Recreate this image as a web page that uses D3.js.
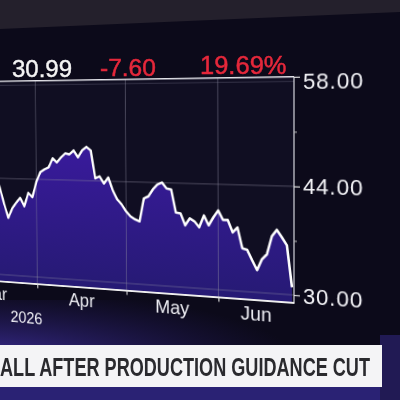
<!DOCTYPE html>
<html>
<head>
<meta charset="utf-8">
<script src="https://cdn.jsdelivr.net/npm/d3@7"></script>
<style>
  html, body { margin: 0; padding: 0; width: 400px; height: 400px; overflow: hidden; background: #0d0b1b; }
  svg { position: absolute; left: 0; top: 0; }
  #chart { transform-origin: 0 0; }
  text { font-family: "Liberation Sans", Arial, sans-serif; }
</style>
</head>
<body>
<svg id="bg" width="400" height="400"></svg>
<svg id="chart" width="520" height="400"></svg>
<svg id="overlay" width="400" height="400"></svg>
<script>
// --- data ---
const dates = [
  "2026-03-18", "2026-03-19", "2026-03-20", "2026-03-23", "2026-03-24", "2026-03-25", "2026-03-26", "2026-03-27", "2026-03-30", "2026-03-31",
  "2026-04-01", "2026-04-02", "2026-04-06", "2026-04-07", "2026-04-08", "2026-04-09", "2026-04-10", "2026-04-13", "2026-04-14", "2026-04-15",
  "2026-04-16", "2026-04-17", "2026-04-20", "2026-04-21", "2026-04-22", "2026-04-23", "2026-04-24", "2026-04-27", "2026-04-28", "2026-04-29",
  "2026-04-30", "2026-05-01", "2026-05-04", "2026-05-05", "2026-05-06", "2026-05-07", "2026-05-08", "2026-05-11", "2026-05-12", "2026-05-13",
  "2026-05-14", "2026-05-15", "2026-05-18", "2026-05-19", "2026-05-20", "2026-05-21", "2026-05-22", "2026-05-26", "2026-05-27", "2026-05-28",
  "2026-05-29", "2026-06-01", "2026-06-02", "2026-06-03", "2026-06-04", "2026-06-05", "2026-06-08", "2026-06-09", "2026-06-10", "2026-06-11",
  "2026-06-12", "2026-06-15", "2026-06-16", "2026-06-17", "2026-06-18", "2026-06-22", "2026-06-23"
];
const closes = [
  44.2, 42.54, 40.28, 38.31, 39.71, 40.55, 41.28, 40.07, 42.02, 41.40,
  43.63, 45.03, 45.44, 45.73, 47.02, 46.47, 47.18, 47.76, 47.63, 48.20,
  47.23, 48.22, 48.71, 48.23, 44.35, 44.64, 43.68, 44.53, 42.75, 41.53,
  40.86, 39.92, 39.26, 38.88, 38.63, 41.79, 42.09, 43.06, 43.75, 44.04,
  43.25, 43.13, 40.05, 39.95, 38.36, 39.33, 38.95, 38.18, 39.80, 38.50,
  39.59, 40.54, 39.31, 39.34, 37.72, 38.40, 35.68, 35.52, 34.18, 32.92,
  34.39, 35.07, 37.44, 38.31, 37.37, 36.37, 30.99
];
const yTicks = [30, 44, 58];
const yMinorTicks = [37, 51];
const monthNames = ["Mar", "Apr", "May", "Jun"];
const yearLabel = "2026";
const lastPrice = "30.99";
const netChange = "-7.60";
const pctChange = "19.69%";
const headline = "ALL AFTER PRODUCTION GUIDANCE CUT";

const parse = d3.timeParse("%Y-%m-%d");
const data = dates.map((d, i) => ({ i, date: parse(d), v: closes[i] }));

// --- 1. Background (TV studio) ---
const bg = d3.select("#bg");
const bgDefs = bg.append("defs");
const glow = bgDefs.append("radialGradient").attr("id", "glow")
  .attr("cx", 0.15).attr("cy", 0.5).attr("r", 0.6);
glow.append("stop").attr("offset", 0).attr("stop-color", "#4433ae").attr("stop-opacity", 0.95);
glow.append("stop").attr("offset", 1).attr("stop-color", "#2a1f70").attr("stop-opacity", 0);

bg.append("rect").attr("width", 400).attr("height", 400).attr("fill", "#0c0a1a");
bg.append("polygon").attr("points", "0,0 400,0 400,12 0,29").attr("fill", "#24202c");
bg.append("rect").attr("x", -120).attr("y", 300).attr("width", 560).attr("height", 130).attr("fill", "url(#glow)");
bg.append("rect").attr("x", 0).attr("y", 385).attr("width", 400).attr("height", 15).attr("fill", "#2a2274");
bg.append("rect").attr("x", 380).attr("y", 335).attr("width", 20).attr("height", 65).attr("fill", "#211a54");

// --- 2. Chart drawn flat, then put into the screen's perspective ---
const svg = d3.select("#chart");
const OX = 120;
const startIdx = -12, endIdx = data.length - 1 + 0.4;
const x = d3.scaleLinear().domain([startIdx, endIdx]).range([OX - 106, OX + 294]);
const y = d3.scaleLinear().domain([30, 58]).range([295, 76.8]);
const baseY = y(30) + 7.5;

const monthStarts = data.filter((d, k) => k > 0 && d.date.getMonth() !== data[k - 1].date.getMonth()).map(d => d.i);
const bounds = [startIdx, ...monthStarts, endIdx];
const labelPos = monthNames.map((m, k) => (bounds[k] + bounds[k + 1]) / 2);

const defs = svg.append("defs");
const grad = defs.append("linearGradient").attr("id", "fill")
  .attr("gradientUnits", "userSpaceOnUse").attr("x1", 0).attr("x2", 0).attr("y1", y(50)).attr("y2", baseY);
grad.append("stop").attr("offset", 0).attr("stop-color", "#3a1a9e");
grad.append("stop").attr("offset", 1).attr("stop-color", "#261a74");

svg.append("rect").attr("x", x(startIdx)).attr("y", y(58))
  .attr("width", x(endIdx) - x(startIdx)).attr("height", baseY - y(58)).attr("fill", "#100e22");

svg.append("path").datum(data)
  .attr("fill", "url(#fill)")
  .attr("d", d3.area().x(d => x(d.i)).y0(baseY).y1(d => y(d.v)));

// grid
const grid = svg.append("g").attr("stroke", "#8c8aa0").attr("stroke-opacity", 0.55).attr("stroke-width", 0.9);
grid.selectAll("line.v").data(monthStarts).join("line").attr("class", "v")
  .attr("x1", d => x(d)).attr("x2", d => x(d)).attr("y1", y(58)).attr("y2", baseY);
grid.selectAll("line.h").data([44, 30]).join("line").attr("class", "h")
  .attr("x1", x(startIdx)).attr("x2", x(endIdx)).attr("y1", d => y(d)).attr("y2", d => y(d));
grid.append("line").attr("x1", x(startIdx)).attr("x2", x(endIdx)).attr("y1", y(58) + 4.5).attr("y2", y(58) + 4.5)
  .attr("stroke-opacity", 0.35);

// frame
svg.append("line").attr("x1", x(startIdx)).attr("x2", x(endIdx)).attr("y1", y(58)).attr("y2", y(58))
  .attr("stroke", "#e4e4ea").attr("stroke-width", 1.6);
svg.append("line").attr("x1", x(endIdx)).attr("x2", x(endIdx)).attr("y1", y(58)).attr("y2", baseY)
  .attr("stroke", "#d4d4dc").attr("stroke-width", 1.2);

// price line
svg.append("path").datum(data)
  .attr("fill", "none").attr("stroke", "#ffffff").attr("stroke-width", 2.6).attr("stroke-linejoin", "round")
  .attr("d", d3.line().x(d => x(d.i)).y(d => y(d.v)));

// bottom axis: month ticks, then month labels
const xAxis = svg.append("g").attr("transform", `translate(0,${baseY})`)
  .call(d3.axisBottom(x).tickValues(monthStarts).tickSize(5).tickSizeOuter(0).tickFormat(""));
xAxis.select(".domain").attr("stroke", "#eeeeee").attr("stroke-width", 2);
xAxis.selectAll(".tick line").attr("stroke", "#dddddd").attr("stroke-width", 1.2);

const xLabels = svg.append("g").attr("transform", `translate(0,${baseY})`)
  .call(d3.axisBottom(x).tickValues(labelPos).tickSize(0).tickPadding(7).tickFormat((d, k) => monthNames[k]));
xLabels.select(".domain").remove();
xLabels.selectAll("text").attr("fill", "#ececf2").attr("font-size", 20)
  .attr("font-family", "'Liberation Sans', Arial, sans-serif");

svg.append("text").attr("x", x(7.2)).attr("y", baseY + 46).attr("text-anchor", "middle")
  .attr("fill", "#ececf2").attr("font-size", 18).text(yearLabel);

// right axis
const yAxis = svg.append("g").attr("transform", `translate(${x(endIdx)},0)`)
  .call(d3.axisRight(y).tickValues(yTicks).tickSize(6).tickPadding(3).tickFormat(d3.format(".2f")));
yAxis.select(".domain").remove();
yAxis.selectAll(".tick line").attr("stroke", "#dddddd").attr("stroke-width", 1.2);
yAxis.selectAll("text").attr("fill", "#f2f2f6").attr("font-size", 22).attr("letter-spacing", 0.8)
  .attr("font-family", "'Liberation Sans', Arial, sans-serif")
  .attr("dy", d => d === 58 ? "0.55em" : "0.32em");

const yMinor = svg.append("g").attr("transform", `translate(${x(endIdx)},0)`)
  .call(d3.axisRight(y).tickValues(yMinorTicks).tickSize(3).tickFormat(""));
yMinor.select(".domain").remove();
yMinor.selectAll(".tick line").attr("stroke", "#bbbbbb");

// perspective of the photographed screen
function homography(src, dst) {
  const A = [], B = [];
  for (let k = 0; k < 4; k++) {
    const [sx, sy] = src[k], [X, Y] = dst[k];
    A.push([sx, sy, 1, 0, 0, 0, -sx * X, -sy * X]); B.push(X);
    A.push([0, 0, 0, sx, sy, 1, -sx * Y, -sy * Y]); B.push(Y);
  }
  const n = 8;
  for (let i = 0; i < n; i++) {
    let p = i;
    for (let r = i + 1; r < n; r++) if (Math.abs(A[r][i]) > Math.abs(A[p][i])) p = r;
    [A[i], A[p]] = [A[p], A[i]]; [B[i], B[p]] = [B[p], B[i]];
    for (let r = i + 1; r < n; r++) {
      const f = A[r][i] / A[i][i];
      for (let c = i; c < n; c++) A[r][c] -= f * A[i][c];
      B[r] -= f * B[i];
    }
  }
  const h = new Array(n);
  for (let i = n - 1; i >= 0; i--) {
    let s = B[i];
    for (let c = i + 1; c < n; c++) s -= A[i][c] * h[c];
    h[i] = s / A[i][i];
  }
  return h;
}
const apr = monthStarts[0];
const H = homography(
  [[x(apr), y(58)], [x(apr), y(30)], [x(endIdx), y(58)], [x(endIdx), y(30)]],
  [[35.3, 80.8], [37.3, 277.0], [294, 76.8], [294, 295]]
);
const [a, b, c, d, e, f, g, h] = H;
document.getElementById("chart").style.transform =
  `matrix3d(${a},${d},0,${g},${b},${e},0,${h},0,0,1,0,${c},${f},0,1)`;

// --- 3. Header quote and headline banner ---
const ov = d3.select("#overlay");
ov.append("text").attr("x", 12).attr("y", 77).attr("font-size", 24).attr("fill", "#f4f4f4")
  .attr("stroke", "#f4f4f4").attr("stroke-width", 0.4).text(lastPrice);
ov.append("text").attr("x", 100).attr("y", 75.5).attr("font-size", 24.5).attr("fill", "#e5283b")
  .attr("stroke", "#e5283b").attr("stroke-width", 0.5).text(netChange);
ov.append("text").attr("x", 200).attr("y", 73.5).attr("font-size", 25.5).attr("fill", "#e5283b")
  .attr("stroke", "#e5283b").attr("stroke-width", 0.5).text(pctChange);

ov.append("rect").attr("x", 0).attr("y", 345).attr("width", 382).attr("height", 42).attr("fill", "#f4f4f6");
ov.append("text").attr("x", 0).attr("y", 376).attr("font-size", 26.5).attr("font-weight", "bold")
  .attr("fill", "#2a2a2e").attr("textLength", 370).attr("lengthAdjust", "spacingAndGlyphs")
  .text(headline);
</script>
</body>
</html>
